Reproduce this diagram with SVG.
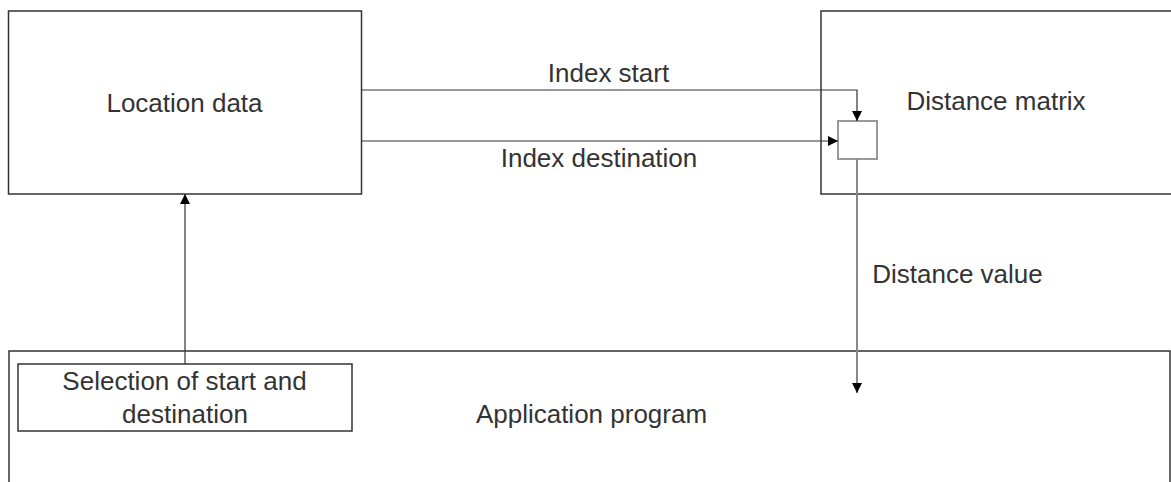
<svg xmlns="http://www.w3.org/2000/svg" width="1171" height="482" viewBox="0 0 1171 482">
<style>
.box{fill:#fff;stroke:#333;stroke-width:1.5}
.inner{fill:#fff;stroke:#999;stroke-width:2}
.lbl{font-family:"Liberation Sans",Arial,sans-serif;font-size:26px;fill:#333;text-anchor:middle}
.con{fill:none;stroke:#333;stroke-width:1.2}
.con2{fill:none;stroke:#888;stroke-width:2}
</style>
<defs>
<marker id="ah" viewBox="0 0 10 10" refX="10" refY="5" markerWidth="10" markerHeight="10" markerUnits="userSpaceOnUse" orient="auto">
<path d="M0,0 L10,5 L0,10 Z" fill="#000"/>
</marker>
</defs>
<g id="application-program">
<rect class="box" x="9" y="351" width="1161" height="140"/>
<text class="lbl" x="591.5" y="423">Application program</text>
</g>
<g id="location-data">
<rect class="box" x="8.5" y="11" width="353" height="183"/>
<text class="lbl" x="184.5" y="112">Location data</text>
</g>
<g id="distance-matrix">
<rect class="box" x="821" y="11" width="360" height="183"/>
<text class="lbl" x="996" y="110">Distance matrix</text>
</g>
<g id="matrix-cell">
<rect class="inner" x="838" y="121" width="39" height="38"/>
</g>
<g id="selection">
<rect class="box" x="18" y="364" width="334" height="67"/>
<text class="lbl" x="184.5" y="390">Selection of start and</text>
<text class="lbl" x="185" y="423">destination</text>
</g>
<g id="connectors">
<path class="con" d="M361.5,90 H857 V121" marker-end="url(#ah)"/>
<path class="con" d="M361.5,141 H838" marker-end="url(#ah)"/>
<path class="con2" d="M857,159 V393" marker-end="url(#ah)"/>
<path class="con" d="M185,364 V194" marker-end="url(#ah)"/>
<text class="lbl" x="608.5" y="82">Index start</text>
<text class="lbl" x="599" y="167">Index destination</text>
<text class="lbl" x="957.5" y="283">Distance value</text>
</g>
</svg>
